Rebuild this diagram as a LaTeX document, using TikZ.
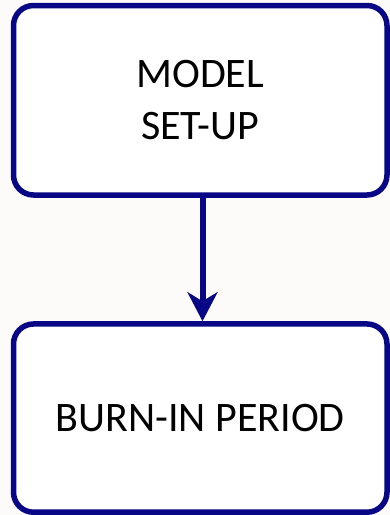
\documentclass[tikz,border=0pt]{standalone}
\usepackage{fontspec}
\setmainfont{Carlito}
\usetikzlibrary{arrows.meta}
\definecolor{navyline}{RGB}{8,8,135}
\definecolor{paper}{RGB}{253,251,250}
\begin{document}
\begin{tikzpicture}[x=1pt,y=-1pt,
  stagebox/.style={draw=navyline, fill=white, line width=5.5pt,
    rounded corners=20pt, minimum width=373.5pt, inner sep=0pt,
    align=center, font=\fontsize{42}{51.5}\selectfont},
  flow/.style={draw=navyline, line width=6pt,
    -{Stealth[length=29pt,width=30pt,inset=9pt]}}]
  % canvas
  \fill[paper] (0,0) rectangle (390,515);
  \useasboundingbox (0,0) rectangle (390,515);
  % stages
  \node[stagebox, minimum height=189.5pt] (setup) at (200.25,100.25) {MODEL\\SET-UP};
  \node[stagebox, minimum height=188.25pt] (burnin) at (200.25,418.1) {BURN-IN PERIOD};
  % transition
  \draw[flow] (setup.south -| 202.5,0) -- (burnin.north -| 202.5,0);
\end{tikzpicture}
\end{document}
